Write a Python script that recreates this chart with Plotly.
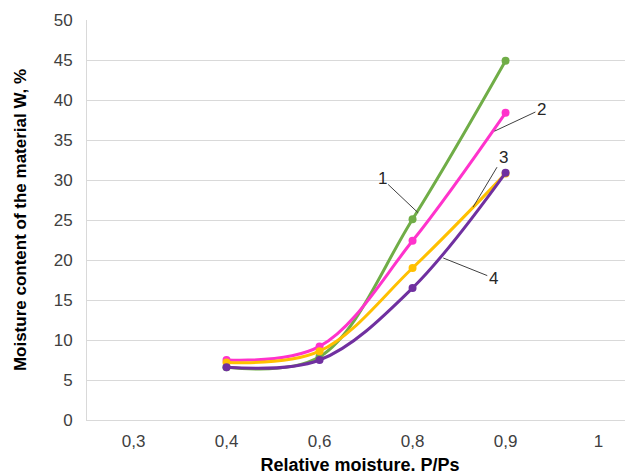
import plotly.graph_objects as go

categories = ["0,3", "0,4", "0,6", "0,8", "0,9", "1"]
x_pts = ["0,4", "0,6", "0,8", "0,9"]
series1 = [6.6, 7.9, 25.1, 44.9]
series2 = [7.5, 9.2, 22.4, 38.4]
series3 = [7.2, 8.6, 19.0, 30.8]
series4 = [6.6, 7.5, 16.5, 30.9]
colors = ["#70AD47", "#FF33CC", "#FFC000", "#7030A0"]
names = ["1", "2", "3", "4"]

fig = go.Figure()
for vals, c, n in zip([series1, series2, series3, series4], colors, names):
    fig.add_trace(go.Scatter(
        x=x_pts, y=vals, name=n, mode="lines+markers",
        line=dict(color=c, width=3, shape="spline", smoothing=1.0),
        marker=dict(color=c, size=8),
    ))

# callout labels: (x index, y value, text, ax, ay)
callouts = [
    (3.06, 25.9, "1", -36, -34),
    (3.88, 36.1, "2", 47, -22),
    (3.65, 26.6, "3", 30, -50),
    (3.33, 20.25, "4", 50, 20),
]
for x, y, t, ax, ay in callouts:
    fig.add_annotation(x=x, y=y, text=t, showarrow=True, arrowhead=0,
                       arrowwidth=1, arrowcolor="#404040", ax=ax, ay=ay,
                       font=dict(family="Liberation Sans, Arial", size=17, color="#262626"))

fig.update_layout(
    width=625, height=467,
    margin=dict(l=79, r=0, t=12, b=55),
    plot_bgcolor="white", paper_bgcolor="white",
    showlegend=False,
    font=dict(family="Liberation Sans, Arial", size=17, color="#404040"),
    xaxis=dict(
        type="category", categoryorder="array", categoryarray=categories,
        tickvals=categories, range=[-0.5, 5.37],
        showgrid=False, showline=True, linecolor="#D9D9D9", linewidth=1,
        ticks="", ticklabelstandoff=6, tickfont=dict(size=17, color="#404040"),
        title=dict(text="<b>Relative moisture. P/Ps</b>", standoff=8,
                   font=dict(size=18, color="#000000")),
    ),
    yaxis=dict(
        range=[0, 50], dtick=5, showgrid=True, gridcolor="#D9D9D9", gridwidth=1,
        showline=True, linecolor="#D9D9D9", zeroline=False,
        ticks="", ticklabelstandoff=10, tickfont=dict(size=17, color="#404040"),
        title=dict(text="<b>Moisture content of the material W, %</b>", standoff=22,
                   font=dict(size=17, color="#000000")),
    ),
)

fig.write_html("out.html")
